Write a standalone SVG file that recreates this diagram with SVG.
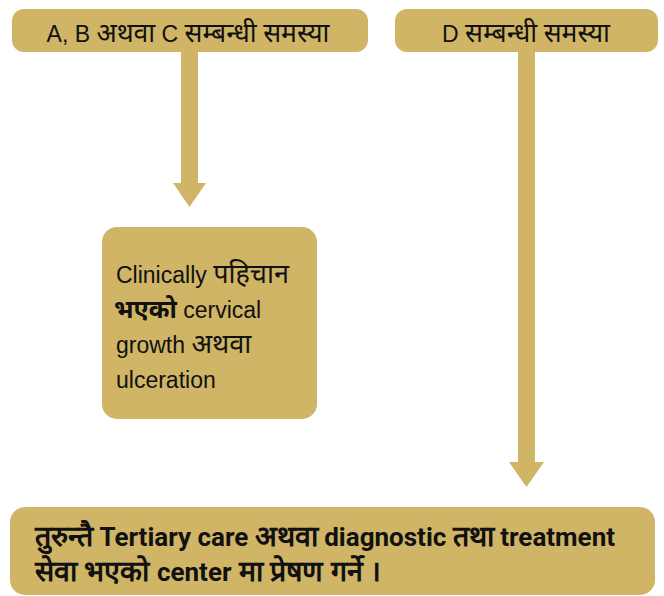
<svg xmlns="http://www.w3.org/2000/svg" width="664" height="596" viewBox="0 0 664 596">
<style>
.box{fill:#D0B566}
.arr{fill:#D0B566}
.t{font-family:"Liberation Sans","Noto Sans",sans-serif;fill:#111}
.h{font-size:23px;text-anchor:middle}
.h .d{font-size:26.5px}
.m{font-size:23px}
.m .d{font-size:27px}
.b{font-family:Roboto,"Liberation Sans",sans-serif;font-size:26px;font-weight:bold}
.b .d{font-size:28.5px}
</style>
<rect width="664" height="596" fill="#fff"/>
<g id="connectors">
<path class="arr" d="M181,52 H198 V183 H206 L189.5,207 L173,183 H181 Z"/>
<path class="arr" d="M518,52 H535 V462 H544 L526.5,487 L509,462 H518 Z"/>
</g>
<g id="node-abc">
<rect class="box" x="12" y="9" width="356" height="43" rx="12"/>
<text class="t h" x="188" y="42">A, B <tspan class="d">अथवा</tspan> C <tspan class="d">सम्बन्धी</tspan> <tspan class="d">समस्या</tspan></text>
</g>
<g id="node-d">
<rect class="box" x="395" y="9" width="263" height="43" rx="12"/>
<text class="t h" x="526" y="42">D <tspan class="d">सम्बन्धी</tspan> <tspan class="d">समस्या</tspan></text>
</g>
<g id="node-clinical">
<rect class="box" x="102" y="227" width="215" height="192" rx="15"/>
<text class="t m" x="116" y="283">Clinically <tspan class="d">पहिचान</tspan></text>
<text class="t m" x="114" y="318"><tspan font-weight="bold" font-size="25px">भएको</tspan>  cervical</text>
<text class="t m" x="116" y="353">growth <tspan class="d">अथवा</tspan></text>
<text class="t m" x="116" y="388">ulceration</text>
</g>
<g id="node-refer">
<rect class="box" x="10" y="507" width="645" height="88" rx="15"/>
<text class="t b" x="35" y="546"><tspan class="d">तुरुन्तै</tspan> Tertiary care <tspan class="d">अथवा</tspan> diagnostic <tspan class="d">तथा</tspan> treatment</text>
<text class="t b" x="35" y="581" word-spacing="1"><tspan class="d">सेवा</tspan> <tspan class="d">भएको</tspan>  center <tspan class="d">मा</tspan> <tspan class="d">प्रेषण</tspan> <tspan class="d">गर्ने</tspan> <tspan class="d">।</tspan></text>
</g>
</svg>
